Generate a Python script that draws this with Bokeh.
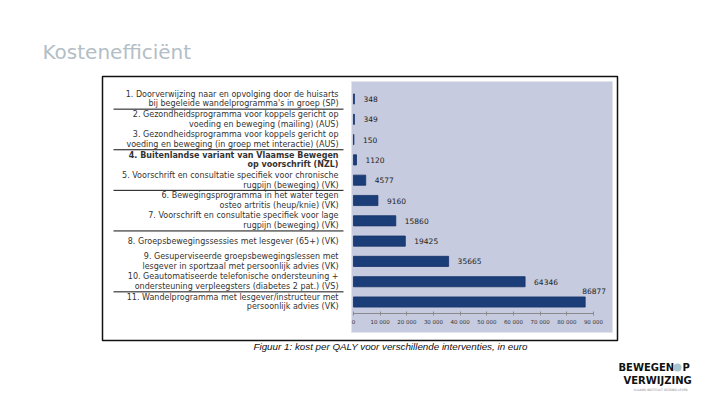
from bokeh.plotting import figure
from bokeh.models import Range1d, LinearAxis, FixedTicker, ColumnDataSource
from bokeh.core.properties import value
from bokeh.embed import file_html
from bokeh.resources import INLINE

# ---------------- data ----------------
title_text = "Kostenefficiënt"
caption_text = "Figuur 1:  kost per QALY voor verschillende interventies, in euro"

categories = [
    "1. Doorverwijzing naar en opvolging door de huisarts\nbij begeleide wandelprogramma's in groep (SP)",
    "2. Gezondheidsprogramma voor koppels gericht op\nvoeding en beweging (mailing) (AUS)",
    "3. Gezondheidsprogramma voor koppels gericht op\nvoeding en beweging (in groep met interactie) (AUS)",
    "4. Buitenlandse variant van Vlaamse Bewegen\nop voorschrift (NZL)",
    "5. Voorschrift en consultatie specifiek voor chronische\nrugpijn (beweging) (VK)",
    "6. Bewegingsprogramma in het water tegen\nosteo artritis (heup/knie) (VK)",
    "7. Voorschrift en consultatie specifiek voor lage\nrugpijn (beweging) (VK)",
    "8. Groepsbewegingssessies met lesgever (65+) (VK)",
    "9. Gesuperviseerde groepsbewegingslessen met\nlesgever in sportzaal met persoonlijk advies (VK)",
    "10. Geautomatiseerde telefonische ondersteuning +\nondersteuning verpleegsters (diabetes 2 pat.) (VS)",
    "11. Wandelprogramma met lesgever/instructeur met\npersoonlijk advies (VK)",
]
costs = [348, 349, 150, 1120, 4577, 9160, 15860, 19425, 35665, 64346, 86877]
bold_items = [4]
group_breaks = [1, 3, 5, 7, 10]

tick_values = [0, 10000, 20000, 30000, 40000, 50000, 60000, 70000, 80000, 90000]
tick_labels = ["0", "10 000", "20 000", "30 000", "40 000", "50 000",
               "60 000", "70 000", "80 000", "90 000"]

logo_word1 = "BEWEGEN"
logo_word1b = "P"
logo_word2 = "VERWIJZING"
logo_tagline = "VLAAMS INSTITUUT GEZOND LEVEN"

# ---------------- layout helpers (page pixels -> data) ----------------
W, H, OX, OY = 704, 397, 0, 0
ZERO_PX, FULL_PX, FULL_VAL = 353.0, 593.0, 90000.0
K = (FULL_PX - ZERO_PX) / FULL_VAL
ROW0_PX, ROW_PX = 98.5, 20.3
LINE_PX = 9.8


def X(px):
    return (px - ZERO_PX) / K


def Y(py):
    return 1 + (py - ROW0_PX) / ROW_PX


p = figure(width=W, height=H, output_backend="svg", toolbar_location=None,
           x_range=Range1d(X(OX), X(OX + W)), y_range=Range1d(Y(OY + H), Y(OY)),
           x_axis_type=None, y_axis_type=None, min_border=0)
p.outline_line_color = None
p.grid.visible = False
p.background_fill_color = "white"
p.border_fill_color = "white"

# image frame and chart background
p.quad(left=[X(102)], right=[X(617)], top=[Y(76)], bottom=[Y(340)],
       fill_color=None, line_color="#111111", line_width=1.5)
p.quad(left=[X(351)], right=[X(612)], top=[Y(81)], bottom=[Y(332)],
       fill_color="#c6cbdf", line_color="#e2e4ec", line_width=1)

idx = list(range(1, len(costs) + 1))

# bars
p.hbar(y=idx, left=0, right=costs, height=0.5,
       fill_color="#1b3e78", line_color="#15326a", line_width=0.8)

# value labels
xo, yo = [], []
for c in costs:
    if c > 0.85 * FULL_VAL:
        xo.append(-3); yo.append(-11)
    else:
        xo.append(9); yo.append(0)
vsrc = ColumnDataSource(dict(x=costs, y=idx, t=[str(c) for c in costs], xo=xo, yo=yo))
p.text(x="x", y="y", text="t", x_offset="xo", y_offset="yo", source=vsrc,
       text_font=value("DejaVu Sans"), text_font_size="7.5px", text_color="#222222",
       text_align="left", text_baseline="middle")

# category labels (one text item per line)
lx, ly, lt, ls, lo = [], [], [], [], []
for i, cat in zip(idx, categories):
    lines = cat.split("\n")
    n = len(lines)
    for j, ln in enumerate(lines):
        lx.append(X(338)); ly.append(i); lt.append(ln)
        ls.append("bold" if i in bold_items else "normal")
        lo.append((j - (n - 1) / 2) * LINE_PX)
csrc = ColumnDataSource(dict(x=lx, y=ly, t=lt, s=ls, o=lo))
p.text(x="x", y="y", text="t", y_offset="o", source=csrc, text_font_style="s",
       text_font=value("DejaVu Sans"), text_font_size="8px", text_color="#333333",
       text_align="right", text_baseline="middle")

# group separators
p.segment(x0=[X(113)] * len(group_breaks), x1=[X(343)] * len(group_breaks),
          y0=[b + 0.5 for b in group_breaks], y1=[b + 0.5 for b in group_breaks],
          line_color="#111111", line_width=1)

# x axis
ax = LinearAxis(bounds=(0, FULL_VAL), ticker=FixedTicker(ticks=tick_values),
                major_label_overrides={v: l for v, l in zip(tick_values, tick_labels)},
                fixed_location=Y(313))
ax.axis_line_color = "#8a8a8a"
ax.major_tick_line_color = "#8a8a8a"
ax.major_tick_in = 2
ax.major_tick_out = 2
ax.minor_tick_line_color = None
ax.major_label_standoff = 3
ax.major_label_text_font = "DejaVu Sans"
ax.major_label_text_font_size = "5.5px"
ax.major_label_text_color = "#333333"
p.add_layout(ax, "below")

# slide title
p.text(x=[X(42)], y=[Y(51)], text=[title_text], text_font=value("DejaVu Sans"),
       text_font_size="20px", text_color="#b3bec6", text_baseline="alphabetic")

# caption
p.text(x=[X(253)], y=[Y(346)], text=[caption_text], text_font=value("Liberation Sans"),
       text_font_style="italic", text_font_size="9.8px", text_color="#111111",
       text_baseline="middle")

# logo
p.text(x=[X(618)], y=[Y(367)], text=[logo_word1], text_font=value("DejaVu Sans"),
       text_font_style="bold", text_font_size="10px", text_color="#111111",
       text_baseline="middle")
p.scatter(x=[X(677)], y=[Y(367)], size=8, marker="circle",
          fill_color="#a8c6cf", line_color=None)
p.text(x=[X(682)], y=[Y(367)], text=[logo_word1b], text_font=value("DejaVu Sans"),
       text_font_style="bold", text_font_size="10px", text_color="#111111",
       text_baseline="middle")
p.text(x=[X(623)], y=[Y(380)], text=[logo_word2], text_font=value("DejaVu Sans"),
       text_font_style="bold", text_font_size="10px", text_color="#111111",
       text_baseline="middle")
p.text(x=[X(633)], y=[Y(389)], text=[logo_tagline], text_font=value("DejaVu Sans"),
       text_font_size="3px", text_color="#888888", text_baseline="middle")

open("out.html", "w").write(file_html(p, INLINE))
